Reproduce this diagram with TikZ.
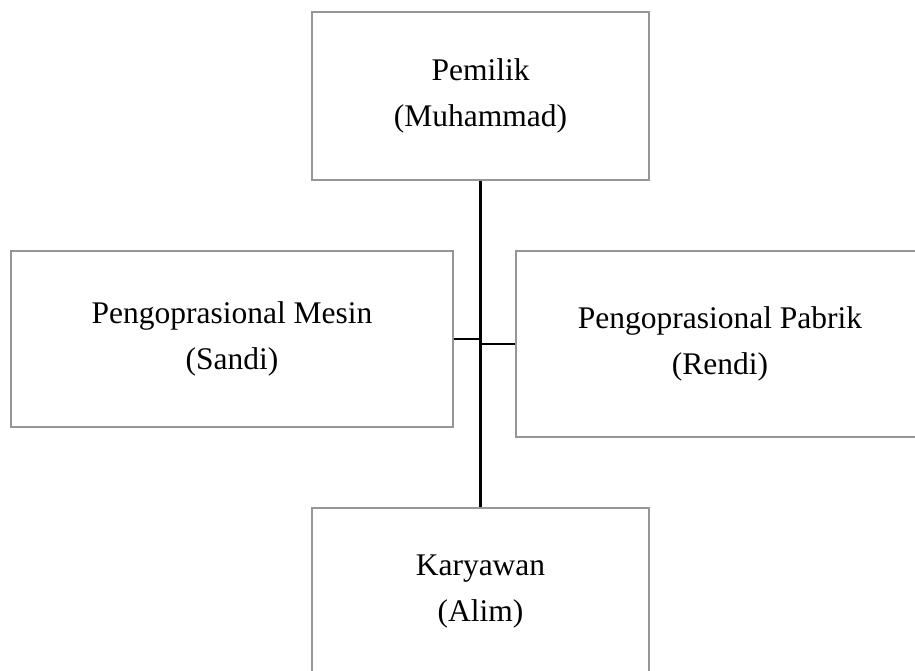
\documentclass[tikz,border=0pt]{standalone}
\usepackage{fontspec}
\setmainfont{Liberation Serif}
\usepackage{tikz}
\usetikzlibrary{positioning,calc}
\definecolor{boxgray}{RGB}{150,150,150}

\begin{document}
\begin{tikzpicture}[
  x=1pt, y=-1pt,
  bx/.style={draw=boxgray, line width=1.2pt, inner sep=0pt, align=center,
    font=\fontsize{31.5}{46}\selectfont},
  ln/.style={draw=black, line width=2.2pt},
]
  \useasboundingbox (0,0) rectangle (915,671);

  % Boxes
  \node[bx, minimum width=337pt, minimum height=168pt] (owner) at (480.5,96) {Pemilik\\(Muhammad)};
  \node[bx, minimum width=442pt, minimum height=176pt] (mesin) at (232,339) {Pengoprasional Mesin\\(Sandi)};
  \node[bx, minimum width=408pt, minimum height=186pt] (pabrik) at (720,344) {Pengoprasional Pabrik\\(Rendi)};
  \node[bx, minimum width=337pt, minimum height=168pt] (staff) at (480.5,592) {Karyawan\\(Alim)};

  % Connectors
  \draw[ln] (owner.south) -- (staff.north);
  \draw[ln] (mesin.east) -- (mesin.east -| owner.south);
  \draw[ln] (pabrik.west) -- (pabrik.west -| owner.south);
\end{tikzpicture}
\end{document}
